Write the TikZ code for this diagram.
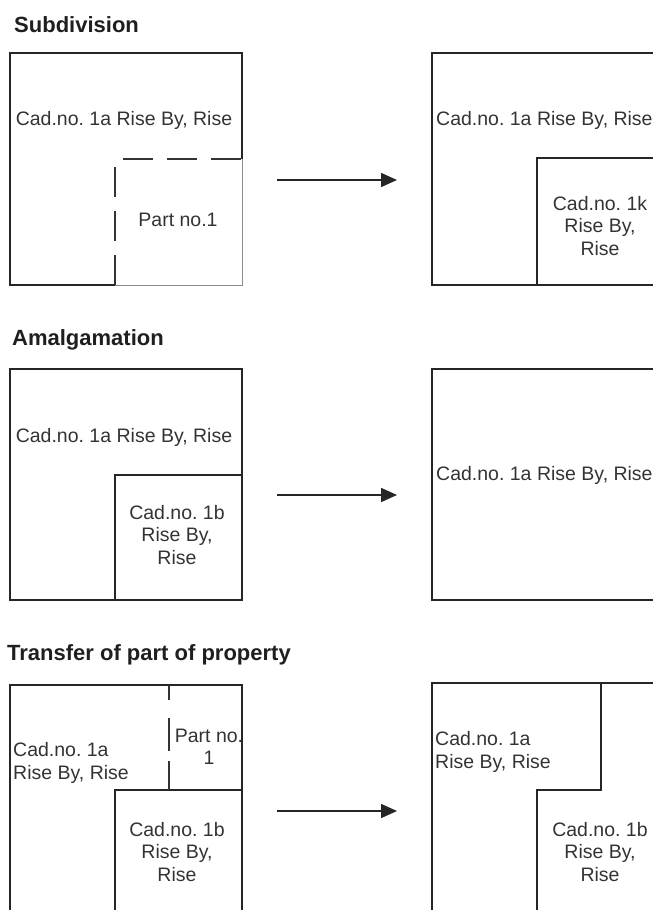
\documentclass[tikz,border=0pt]{standalone}
\usepackage{fontspec}
\setmainfont{Liberation Sans}
\usetikzlibrary{arrows.meta}
\frenchspacing
\begin{document}
\begin{tikzpicture}[x=1pt,y=-1pt,
  plot/.style={line width=1.6pt,draw=black!85},
  faint/.style={line width=1pt,draw=black!45},
  cut/.style={line width=1.6pt,draw=black!80,dash pattern=on 30pt off 14pt},
  heading/.style={anchor=west,inner sep=0pt,font=\fontsize{22}{26}\selectfont\bfseries,text=black!88},
  label/.style={inner sep=0pt,font=\fontsize{19.5}{22.5}\selectfont,text=black!80,align=center},
  flow/.style={line width=1.6pt,draw=black!85,-{Triangle[length=16pt,width=14pt]}}]
\useasboundingbox (0,0) rectangle (653,910);
\clip (0,0) rectangle (653,910);

% ---------- Subdivision ----------
\node[heading] (t1) at (14,25) {Subdivision};
% parent parcel with the part to be split off
\draw[faint] (242,159) -- (242,285) -- (115,285);
\draw[plot] (115,285) -- (10,285) -- (10,53) -- (242,53) -- (242,159);
\draw[cut] (123,159) -- (242,159);
\draw[cut] (115,167) -- (115,285);
\node[label] (s1a) at (124,120) {Cad.no. 1a Rise By, Rise};
\node[label] (s1p) at (178,220) {Part no.1};
% result
\draw[plot] (660,53) -- (432,53) -- (432,285) -- (660,285);
\draw[plot] (537,285) -- (537,158) -- (660,158);
\node[label,anchor=west] (s2a) at (436,120) {Cad.no. 1a Rise By, Rise};
\node[label] (s2k) at (600,226) {Cad.no. 1k\\Rise By,\\Rise};
\coordinate (s1from) at (277,180);
\coordinate (s1to) at (397,180);
\draw[flow] (s1from) -- (s1to);

% ---------- Amalgamation ----------
\node[heading] (t2) at (12,340) {Amalgamation};
\draw[plot] (10,369) rectangle (242,600);
\draw[plot] (115,600) -- (115,475) -- (242,475);
\node[label] (m1a) at (124,437) {Cad.no. 1a Rise By, Rise};
\node[label] (m1b) at (177,535) {Cad.no. 1b\\Rise By,\\Rise};
\draw[plot] (660,369) -- (432,369) -- (432,600) -- (660,600);
\node[label,anchor=west] (m2a) at (436,475) {Cad.no. 1a Rise By, Rise};
\coordinate (m1from) at (277,495);
\coordinate (m1to) at (397,495);
\draw[flow] (m1from) -- (m1to);

% ---------- Transfer of part of property ----------
\node[heading] (t3) at (7,655) {Transfer of part of property};
\draw[plot] (10,920) -- (10,685) -- (242,685) -- (242,920);
\draw[plot] (115,920) -- (115,790) -- (242,790);
\draw[cut,dash pattern=on 15pt off 18pt on 33pt off 10pt on 40pt] (169,685) -- (169,790);
\node[label,align=left,anchor=west] (p1a) at (13,763) {Cad.no. 1a\\Rise By, Rise};
\node[label] (p1p) at (209,747) {Part no.\\1};
\node[label] (p1b) at (177,852) {Cad.no. 1b\\Rise By,\\Rise};
\draw[plot] (432,920) -- (432,683) -- (660,683);
\draw[plot] (601,683) -- (601,790) -- (537,790) -- (537,920);
\node[label,align=left,anchor=west] (p2a) at (435,752) {Cad.no. 1a\\Rise By, Rise};
\node[label] (p2b) at (600,852) {Cad.no. 1b\\Rise By,\\Rise};
\coordinate (p1from) at (277,811);
\coordinate (p1to) at (397,811);
\draw[flow] (p1from) -- (p1to);
\end{tikzpicture}
\end{document}
